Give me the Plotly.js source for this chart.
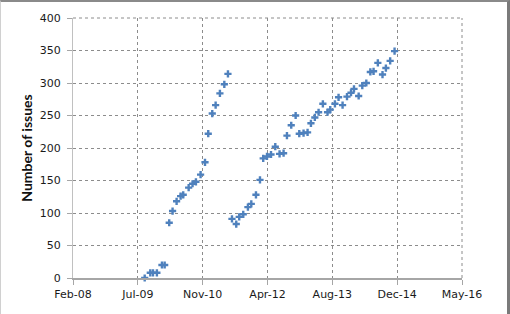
<!DOCTYPE html>
<html>
<head>
<meta charset="utf-8">
<script src="https://cdn.plot.ly/plotly-3.0.1.min.js"></script>
<style>
html,body{margin:0;padding:0;background:#fff;}
#wrap{position:relative;width:510px;height:314px;}
#chart{width:510px;height:314px;}
#frame{position:absolute;left:0;top:0;width:506px;height:312px;border-top:2px solid #8a8a8a;border-left:1px solid #d0d0d0;border-right:3px solid #7a7a7a;pointer-events:none;}
</style>
</head>
<body>
<div id="wrap"><div id="chart"></div><div id="frame"></div></div>
<script>
const dates = [
 '2009-08-28','2009-10-10','2009-10-31','2009-11-30','2010-01-08','2010-01-29','2010-03-05','2010-03-31',
 '2010-05-01','2010-06-01','2010-06-21','2010-08-02','2010-09-01','2010-09-27','2010-11-02','2010-12-06',
 '2010-12-31','2011-01-31','2011-02-26','2011-03-31','2011-05-04','2011-06-01',
 '2011-07-02','2011-08-04','2011-08-27','2011-09-27','2011-11-02','2011-11-28','2012-01-03','2012-02-03',
 '2012-02-28','2012-03-28','2012-04-28','2012-05-31','2012-07-03','2012-08-03','2012-08-29','2012-10-01',
 '2012-11-04','2012-12-02','2013-01-04','2013-02-04','2013-03-02','2013-04-01','2013-04-30','2013-06-02',
 '2013-07-08','2013-07-29','2013-09-03','2013-10-01','2013-11-01','2013-12-05','2014-01-05','2014-01-28',
 '2014-03-05','2014-04-02','2014-05-03','2014-06-03','2014-06-28','2014-07-31','2014-09-05','2014-10-01',
 '2014-11-03','2014-12-07'
];
const issues = [
 0, 8, 8, 8, 20, 20, 85, 103, 118, 126, 128, 139, 145, 148, 159, 178, 222, 253, 266, 284, 298, 314,
 91, 83, 94, 98, 109, 114, 128, 151, 184, 187, 190, 202, 191, 192, 219, 235, 250, 222, 223, 224,
 238, 247, 255, 268, 255, 259, 268, 278, 266, 279, 285, 291, 280, 296, 300, 317, 318, 331, 313, 323, 334, 349
];
const xTickVals = ['2008-02-22','2009-07-06','2010-11-18','2012-04-01','2013-08-14','2014-12-27','2016-05-10'];
const xTickText = ['Feb-08','Jul-09','Nov-10','Apr-12','Aug-13','Dec-14','May-16'];
const yTickVals = [0,50,100,150,200,250,300,350,400];

const trace = {
  x: dates, y: issues, type: 'scatter', mode: 'markers',
  marker: {symbol: 'cross', size: 6, color: '#4f81bd', line: {width: 0}},
  cliponaxis: false, hoverinfo: 'x+y'
};
const fnt = {family: '"DejaVu Sans", sans-serif', size: 11, color: '#1a1a1a'};
const layout = {
  width: 510, height: 314,
  margin: {l: 73, r: 48, t: 18, b: 36, pad: 0},
  paper_bgcolor: '#fff', plot_bgcolor: '#fff',
  showlegend: false,
  font: fnt,
  xaxis: {
    type: 'date', range: ['2008-02-22','2016-05-10'],
    tickmode: 'array', tickvals: xTickVals, ticktext: xTickText,
    showgrid: true, gridcolor: '#8c8c8c', griddash: 'dot', gridwidth: 1,
    showline: true, linecolor: '#a6a6a6', linewidth: 2,
    ticks: 'outside', ticklen: 5, tickcolor: '#a6a6a6', tickwidth: 1,
    zeroline: false, tickfont: fnt, fixedrange: true
  },
  yaxis: {
    range: [0, 400], tickmode: 'array', tickvals: yTickVals,
    showgrid: true, gridcolor: '#8c8c8c', griddash: 'dot', gridwidth: 1,
    showline: true, linecolor: '#c0c0c0', linewidth: 1,
    ticks: 'outside', ticklen: 5, tickcolor: '#a6a6a6', tickwidth: 1,
    ticklabelstandoff: 4,
    zeroline: false, tickfont: fnt, fixedrange: true,
    title: {text: '<b>Number of issues</b>', font: {family: 'Lato, "Open Sans", sans-serif', size: 14, color: '#111'}, standoff: 3}
  },
  shapes: [
    {type: 'line', xref: 'paper', yref: 'paper', x0: 1, x1: 1, y0: 0, y1: 1, line: {color: '#8c8c8c', width: 1, dash: 'dot'}},
    {type: 'line', xref: 'paper', yref: 'paper', x0: 0, x1: 1, y0: 1, y1: 1, line: {color: '#8c8c8c', width: 1, dash: 'dot'}}
  ]
};
Plotly.newPlot('chart', [trace], layout, {displayModeBar: false, staticPlot: true});
</script>
</body>
</html>
